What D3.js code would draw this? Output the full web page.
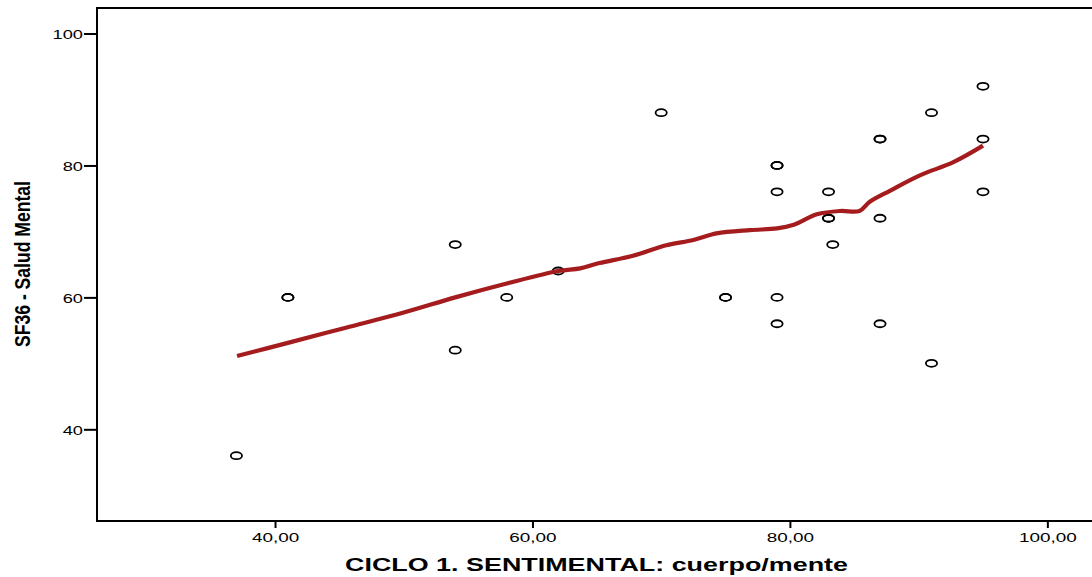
<!DOCTYPE html>
<html>
<head>
<meta charset="utf-8">
<script src="https://cdn.jsdelivr.net/npm/d3@7"></script>
<style>
  html, body { margin: 0; padding: 0; background: #fff; }
  svg { display: block; }
  text { font-family: "Liberation Sans", Arial, sans-serif; fill: #000; }
</style>
</head>
<body>
<svg id="chart" width="1092" height="577"></svg>
<script>
// Observed pairs: body/mind sentiment cycle score vs. SF36 mental health
const sentimental = [37, 41, 41, 54, 54, 58, 62, 70, 75, 75, 79, 79, 79, 79, 79, 83, 83, 83, 83.33, 87, 87, 87, 87, 91, 91, 95, 95, 95];
const saludMental = [36, 60, 60, 68, 52, 60, 64, 88, 60, 60, 80, 80, 76, 60, 56, 76, 72, 72, 68, 84, 84, 72, 56, 88, 50, 92, 84, 76];

// Local regression (loess) fit line
const fitX = [37.05, 41, 45.5, 50, 54, 58, 62, 63.7, 65.2, 67.8, 70.4, 72.5, 74.3, 76.9, 79, 80.3, 82.1, 83.9, 85.4, 86.2, 87.8, 90.1, 92.7, 95];
const fitY = [51.1, 53.1, 55.4, 57.7, 60.0, 62.1, 64.0, 64.4, 65.2, 66.3, 67.9, 68.7, 69.7, 70.2, 70.45, 71.0, 72.6, 73.1, 73.1, 74.5, 76.2, 78.5, 80.5, 83.0];

// Axis ticks
const xTicks = [40, 60, 80, 100];
const yTicks = [40, 60, 80, 100];

const xTitle = "CICLO 1. SENTIMENTAL: cuerpo/mente";
const yTitle = "SF36 - Salud Mental";

const svg = d3.select("#chart");
const plotL = 97, plotT = 8, plotR = 1100, plotB = 521;

const x = d3.scaleLinear().domain([26.17, 104.09]).range([plotL, plotR]);
const y = d3.scaleLinear().domain([26.1, 103.87]).range([plotB, plotT]);

// Plot frame
svg.append("rect")
  .attr("x", plotL).attr("y", plotT)
  .attr("width", plotR - plotL).attr("height", plotB - plotT)
  .attr("fill", "none").attr("stroke", "#000").attr("stroke-width", 2);

// Y axis
const yAxis = svg.append("g").attr("transform", `translate(${plotL},0)`)
  .call(d3.axisLeft(y).tickValues(yTicks).tickSize(13).tickPadding(0).tickFormat(d3.format("d")));
yAxis.select(".domain").remove();
yAxis.selectAll(".tick line").attr("stroke", "#000").attr("stroke-width", 2);
yAxis.selectAll(".tick text")
  .attr("x", 0).attr("dy", "0.35em")
  .attr("text-anchor", "end")
  .attr("font-size", 13.5)
  .attr("transform", "translate(-14,0) scale(1.35,1)")
  .style("font-family", "'Liberation Sans', Arial, sans-serif");

// X axis
const fmtComma = d => d3.format(".2f")(d).replace(".", ",");
const xAxis = svg.append("g").attr("transform", `translate(0,${plotB})`)
  .call(d3.axisBottom(x).tickValues(xTicks).tickSize(7).tickPadding(0).tickFormat(fmtComma));
xAxis.select(".domain").remove();
xAxis.selectAll(".tick line").attr("stroke", "#000").attr("stroke-width", 2);
xAxis.selectAll(".tick text")
  .attr("y", 0).attr("dy", 0)
  .attr("text-anchor", "middle")
  .attr("font-size", 13.5)
  .attr("transform", "translate(0,21) scale(1.4,1)")
  .style("font-family", "'Liberation Sans', Arial, sans-serif");

// Scatter markers
const pts = sentimental.map((v, i) => ({ x: v, y: saludMental[i] }));
svg.append("g").selectAll("ellipse").data(pts).join("ellipse")
  .attr("cx", d => x(d.x)).attr("cy", d => y(d.y))
  .attr("rx", 5.6).attr("ry", 3.5)
  .attr("fill", "none").attr("stroke", "#000").attr("stroke-width", 1.8);

// Fit line
const fit = fitX.map((v, i) => [v, fitY[i]]);
svg.append("path").datum(fit)
  .attr("d", d3.line().x(d => x(d[0])).y(d => y(d[1])).curve(d3.curveCatmullRom))
  .attr("fill", "none").attr("stroke", "#a51c1f").attr("stroke-width", 4.2)
  .attr("stroke-linecap", "butt");

// Axis titles
svg.append("text")
  .attr("x", 345).attr("y", 571)
  .attr("font-size", 18.5).attr("font-weight", "bold")
  .attr("textLength", 503).attr("lengthAdjust", "spacingAndGlyphs")
  .text(xTitle);

svg.append("text")
  .attr("transform", "translate(30,347) rotate(-90)")
  .attr("x", 0).attr("y", 0)
  .attr("font-size", 22).attr("font-weight", "bold")
  .attr("textLength", 166).attr("lengthAdjust", "spacingAndGlyphs")
  .text(yTitle);
</script>
</body>
</html>
